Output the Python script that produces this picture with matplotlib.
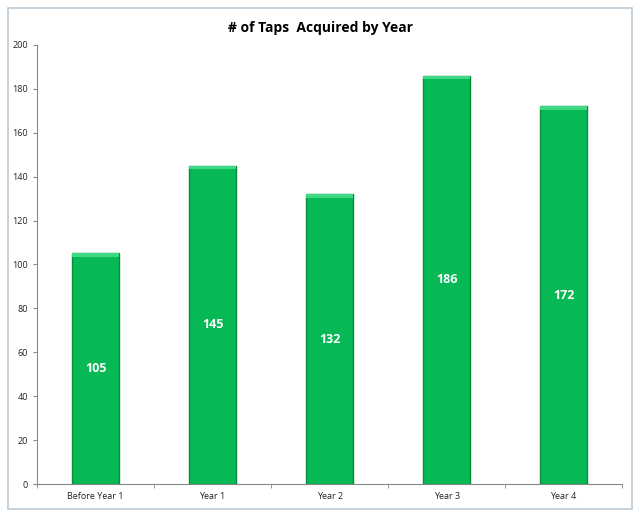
import matplotlib
matplotlib.use("Agg")
import matplotlib.pyplot as plt
from matplotlib.patches import Rectangle
import numpy as np

# Data
categories = ["Before Year 1", "Year 1", "Year 2", "Year 3", "Year 4"]
taps = [105, 145, 132, 186, 172]
y_ticks = [0, 20, 40, 60, 80, 100, 120, 140, 160, 180, 200]

plt.rcParams['font.family'] = ['Open Sans', 'DejaVu Sans']

fig = plt.figure(figsize=(6.4, 5.15), dpi=100)
ax = fig.add_axes([0.058, 0.06, 0.914, 0.853])

# outer chart frame
fig.patches.append(Rectangle((0.012, 0.012), 0.976, 0.972, transform=fig.transFigure,
                             fill=False, edgecolor="#b9cbd6", linewidth=1.2))

x = np.arange(len(categories))
bars = ax.bar(x, taps, width=0.4, color="#06b954", edgecolor="#0a8a3c", linewidth=1.0, zorder=2)

# light highlight at bar tops
for b in bars:
    ax.bar(b.get_x() + b.get_width() / 2, 1.6, width=b.get_width(), bottom=b.get_height() - 1.6,
           color="#3fd884", edgecolor="none", zorder=3)

for xi, v in zip(x, taps):
    ax.text(xi, v / 2, str(v), ha="center", va="center", color="white",
            fontsize=9, fontweight="bold", zorder=4)

ax.set_xlim(-0.5, len(categories) - 0.5)
ax.set_ylim(0, 200)
ax.set_yticks(y_ticks)
ax.set_xticks(x)
ax.set_xticklabels(categories)
ax.set_xticks(np.arange(len(categories) + 1) - 0.5, minor=True)
ax.tick_params(axis="x", which="major", length=0, labelsize=6.5, colors="#333333", pad=6)
ax.tick_params(axis="x", which="minor", length=3, color="#888888")
ax.tick_params(axis="y", labelsize=6.5, colors="#333333", length=3, color="#888888")
for lbl in ax.get_xticklabels() + ax.get_yticklabels():
    lbl.set_color("#222222")

ax.spines["top"].set_visible(False)
ax.spines["right"].set_visible(False)
ax.spines["left"].set_color("#888888")
ax.spines["bottom"].set_color("#888888")

fig.text(0.5, 0.945, "# of Taps  Acquired by Year", ha="center", va="center",
         fontsize=10, fontweight="bold", color="black")

fig.savefig("out.png", dpi=100)
